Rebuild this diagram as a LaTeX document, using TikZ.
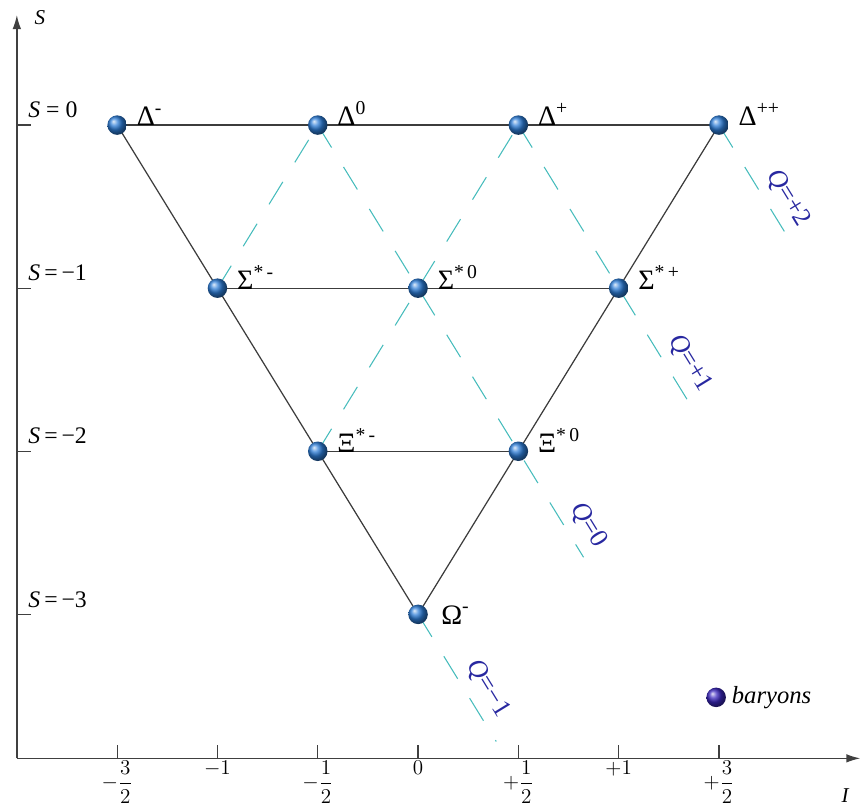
\documentclass[tikz,border=0pt]{standalone}
\usepackage{amsmath}
\usepackage{fontspec}
\setmainfont{Liberation Serif}
\usetikzlibrary{arrows.meta, backgrounds}

\definecolor{qline}{RGB}{70,188,188}
\definecolor{qtext}{RGB}{40,40,160}
\definecolor{edgegray}{RGB}{60,60,60}
\definecolor{ballblue}{RGB}{45,125,215}
\definecolor{ballviolet}{RGB}{60,40,190}

\begin{document}
\begin{tikzpicture}[
    x=4.01cm, y=3.26cm,
    baryon/.style={circle, shading=ball, ball color=ballblue, minimum size=0.39cm, inner sep=0pt},
    plabel/.style={anchor=base west, font=\fontsize{16}{18}\selectfont, inner sep=0pt, xshift=11pt, yshift=-0.5pt},
    side/.style={draw=edgegray, line width=0.7pt},
    qdash/.style={draw=qline, line width=0.6pt, dash pattern=on 15pt off 13pt},
    qlabel/.style={font=\fontsize{15}{17}\selectfont, text=qtext, rotate=-58.4},
    axis/.style={-{Latex[length=2.8mm, width=1.7mm]}, line width=0.8pt, draw=black!75}
]
\useasboundingbox (-2.084,0.767) rectangle (2.208,-4.202);

% Define axes
\coordinate (corner) at (-2,-3.883);
\coordinate (stop) at (-2,0.675);
\coordinate (iend) at (2.205,-3.883);
\draw[axis] (corner) -- (stop);
\draw[axis] (corner) -- (iend);
\node[font=\large\itshape] (saxis) at (-1.885,0.656) {S};
\node[font=\large\itshape] (iaxis) at (2.129,-4.11) {I};

% Ticks on the I axis
\foreach \i/\txt in {-1.5/{$-\dfrac{3}{2}$}, -1/{$-1$}, -0.5/{$-\dfrac{1}{2}$}, 0/{$0$},
                     0.5/{$+\dfrac{1}{2}$}, 1/{$+1$}, 1.5/{$+\dfrac{3}{2}$}} {
    \draw[black!75, line width=0.7pt] (\i,-3.883) -- (\i,-3.80);
    \node[anchor=north, font=\large, inner sep=0pt] at (\i,-3.895) {\txt};
}

% Ticks on the S axis
\foreach \s/\txt in {0/{\textit{S} = 0}, -1/{\textit{S}\,=\,−1}, -2/{\textit{S}\,=\,−2}, -3/{\textit{S}\,=\,−3}} {
    \draw[black!75, line width=0.7pt] (-2,\s) -- (-1.93,\s);
    \node[anchor=base west, font=\fontsize{13.5}{15}\selectfont, inner sep=0pt] at (-1.944,\s+0.045) {\txt};
}

% Define nodes
\node[baryon] (dm)  at (-1.5,0) {};
\node[baryon] (d0)  at (-0.5,0) {};
\node[baryon] (dp)  at (0.5,0) {};
\node[baryon] (dpp) at (1.5,0) {};
\node[baryon] (sm)  at (-1,-1) {};
\node[baryon] (s0)  at (0,-1) {};
\node[baryon] (sp)  at (1,-1) {};
\node[baryon] (xm)  at (-0.5,-2) {};
\node[baryon] (x0)  at (0.5,-2) {};
\node[baryon] (om)  at (0,-3) {};

% Names
\node[plabel] (dmlab)  at (dm.center)  {Δ\textsuperscript{-}};
\node[plabel] (d0lab)  at (d0.center)  {Δ\textsuperscript{0}};
\node[plabel] (dplab)  at (dp.center)  {Δ\textsuperscript{+}};
\node[plabel] (dpplab) at (dpp.center) {Δ\textsuperscript{++}};
\node[plabel] (smlab)  at (sm.center)  {Σ\textsuperscript{*\,-}};
\node[plabel] (s0lab)  at (s0.center)  {Σ\textsuperscript{*\,0}};
\node[plabel] (splab)  at (sp.center)  {Σ\textsuperscript{*\,+}};
\node[plabel] (xmlab)  at (xm.center)  {Ξ\textsuperscript{*\,-}};
\node[plabel] (x0lab)  at (x0.center)  {Ξ\textsuperscript{*\,0}};
\node[plabel, xshift=2pt, yshift=-5pt] (omlab) at (om.center) {Ω\textsuperscript{-}};

% Free ends of the charge lines
\coordinate (qtwoend)  at (1.85,-0.70);
\coordinate (qoneend)  at (1.35,-1.70);
\coordinate (qzeroend) at (0.825,-2.65);
\coordinate (qmend)    at (0.39,-3.78);

\begin{scope}[on background layer]
% Sides of the multiplet
\draw[side] (dm.center) -- (dpp.center);
\draw[side] (sm.center) -- (sp.center);
\draw[side] (xm.center) -- (x0.center);
\draw[side] (dm.center) -- (om.center);
\draw[side] (dpp.center) -- (om.center);

% Charge lines
\draw[qdash] (dpp.center) -- (qtwoend);
\draw[qdash] (dp.center) -- (qoneend);
\draw[qdash] (d0.center) -- (qzeroend);
\draw[qdash] (om.center) -- (qmend);
\draw[qdash] (sm.center) -- (d0.center);
\draw[qdash] (xm.center) -- (dp.center);
\end{scope}

% Charge labels
\node[qlabel] (qtwo)  at (1.845,-0.448) {\textit{Q}=+2};
\node[qlabel] (qone)  at (1.356,-1.46)  {\textit{Q}=+1};
\node[qlabel] (qzero) at (0.852,-2.454) {\textit{Q}=0};
\node[qlabel] (qmone) at (0.349,-3.454) {\textit{Q}=−1};

% Legend
\node[baryon, ball color=ballviolet] (key) at (1.486,-3.509) {};
\node[anchor=west, font=\fontsize{14}{16}\selectfont\itshape, inner sep=3pt] (keylab) at (key.east) {baryons};

\end{tikzpicture}
\end{document}
